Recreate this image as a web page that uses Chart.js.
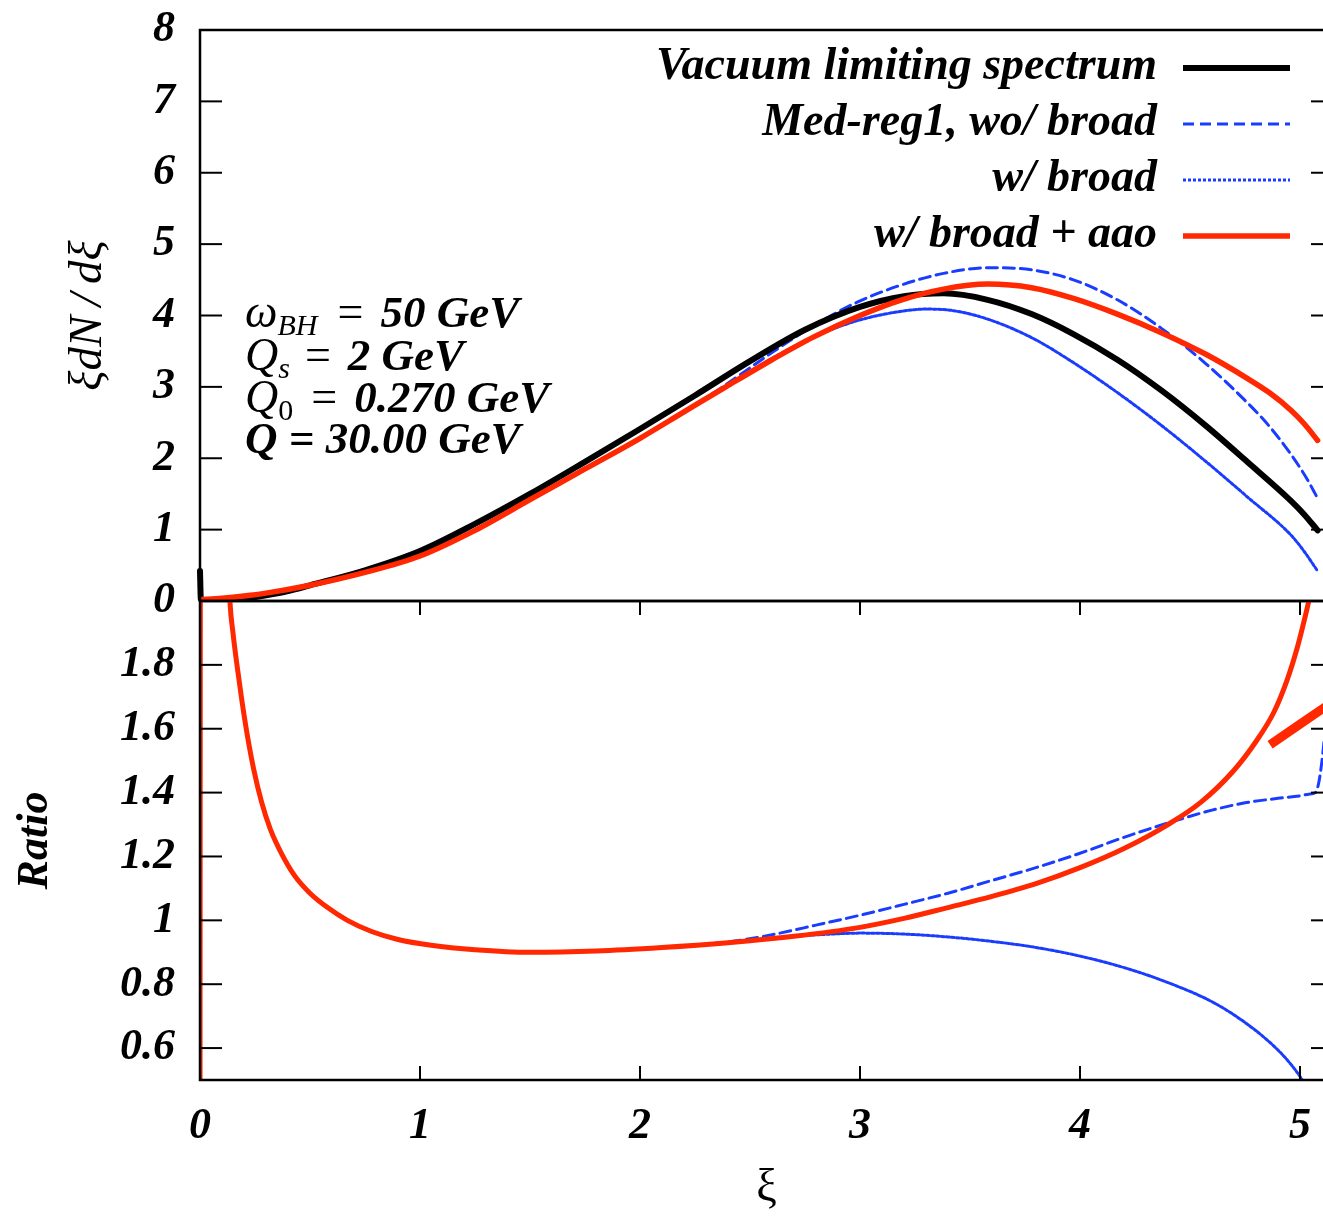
<!DOCTYPE html>
<html>
<head>
<meta charset="utf-8">
<script src="https://cdn.jsdelivr.net/npm/chart.js@4.4.1/dist/chart.umd.min.js"></script>
<style>
  html, body { margin: 0; padding: 0; background: #fff; }
  #page { position: relative; width: 1323px; height: 1217px; overflow: hidden; background: #fff; }
  #page canvas { position: absolute; left: 0; }
  #topChart { top: 0; }
  #ratioChart { top: 560px; }
</style>
</head>
<body>
<div id="page">
  <canvas id="topChart" width="1400" height="640"></canvas>
  <canvas id="ratioChart" width="1400" height="657"></canvas>
</div>
<script>
const SERIF = "'Liberation Serif', 'Times New Roman', serif";
const BLACK = '#000000';
const BLUE = '#1a3cff';
const RED = '#ff2800';

// upper panel: xi dN/dxi
const vacXi  = [0, 0.004, 0.1, 0.2, 0.3, 0.4, 0.5, 0.75, 1.0, 1.25, 1.5, 1.75, 2.0, 2.25, 2.5, 2.75, 3.0, 3.2, 3.38, 3.58, 3.78, 3.97, 4.17, 4.37, 4.57, 4.76, 4.96, 5.02, 5.08];
const vacVal = [0.42, 0.02, 0.0, 0.03, 0.08, 0.14, 0.22, 0.43, 0.70, 1.08, 1.50, 1.95, 2.41, 2.88, 3.36, 3.80, 4.12, 4.27, 4.31, 4.22, 4.02, 3.74, 3.38, 2.95, 2.46, 1.95, 1.40, 1.21, 0.99];

const wobXi  = [2.0, 2.2, 2.39, 2.59, 2.79, 2.99, 3.19, 3.38, 3.58, 3.78, 3.97, 4.17, 4.37, 4.57, 4.76, 4.86, 4.96, 5.03, 5.08];
const wobVal = [2.28, 2.65, 3.03, 3.46, 3.86, 4.19, 4.43, 4.59, 4.67, 4.64, 4.50, 4.22, 3.82, 3.33, 2.78, 2.45, 2.05, 1.72, 1.44];

const wbXi  = [2.0, 2.2, 2.39, 2.59, 2.79, 2.99, 3.19, 3.3, 3.42, 3.58, 3.78, 3.97, 4.17, 4.37, 4.57, 4.76, 4.96, 5.02, 5.08];
const wbVal = [2.28, 2.65, 3.0, 3.38, 3.70, 3.93, 4.06, 4.09, 4.07, 3.95, 3.69, 3.34, 2.92, 2.46, 1.96, 1.46, 0.92, 0.69, 0.42];

const aaoXi  = [0, 0.1, 0.2, 0.3, 0.5, 0.75, 1.0, 1.25, 1.5, 1.75, 2.0, 2.2, 2.39, 2.6, 2.79, 3.0, 3.19, 3.38, 3.58, 3.78, 3.97, 4.17, 4.37, 4.57, 4.76, 4.86, 4.96, 5.02, 5.08];
const aaoVal = [0.02, 0.04, 0.07, 0.11, 0.22, 0.40, 0.63, 0.99, 1.42, 1.85, 2.28, 2.65, 3.0, 3.38, 3.70, 4.0, 4.22, 4.37, 4.44, 4.39, 4.24, 4.02, 3.76, 3.46, 3.12, 2.92, 2.67, 2.48, 2.25];

// lower panel: ratio to vacuum
const rAaoXi  = [0, 0.002, 0.06, 0.12, 0.136, 0.15, 0.168, 0.19, 0.215, 0.245, 0.28, 0.32, 0.37, 0.43, 0.5, 0.58, 0.67, 0.78, 0.9, 1.05, 1.25, 1.5, 1.8, 2.1, 2.4, 2.7, 3.0, 3.2, 3.4, 3.6, 3.8, 4.0, 4.2, 4.4, 4.55, 4.7, 4.8, 4.88, 4.94, 4.99, 5.03, 5.06];
const rAaoVal = [0.3, 2.6, 3.0, 2.3, 2.0, 1.90, 1.80, 1.69, 1.58, 1.47, 1.37, 1.285, 1.21, 1.14, 1.085, 1.04, 1.0, 0.965, 0.94, 0.922, 0.908, 0.90, 0.904, 0.915, 0.93, 0.95, 0.978, 1.006, 1.04, 1.075, 1.115, 1.165, 1.225, 1.30, 1.37, 1.47, 1.56, 1.65, 1.75, 1.86, 1.97, 2.06];

const rWobXi  = [2.1, 2.4, 2.6, 2.8, 3.0, 3.2, 3.4, 3.6, 3.8, 4.0, 4.2, 4.4, 4.6, 4.75, 4.9, 5.0, 5.04, 5.07, 5.085, 5.1, 5.115];
const rWobVal = [0.915, 0.932, 0.955, 0.985, 1.016, 1.05, 1.085, 1.125, 1.165, 1.21, 1.26, 1.305, 1.345, 1.368, 1.382, 1.39, 1.395, 1.40, 1.43, 1.50, 1.60];

const rWbXi  = [2.1, 2.4, 2.7, 2.9, 3.0, 3.2, 3.4, 3.6, 3.8, 4.0, 4.2, 4.4, 4.6, 4.75, 4.88, 4.96, 5.01, 5.04];
const rWbVal = [0.915, 0.93, 0.95, 0.958, 0.96, 0.957, 0.948, 0.934, 0.915, 0.888, 0.852, 0.805, 0.745, 0.68, 0.607, 0.548, 0.50, 0.46];

const rExtraXi  = [4.864, 5.15];
const rExtraVal = [1.55, 1.685];

const xTicks = [0, 1, 2, 3, 4, 5];
const yTicksTop = [0, 1, 2, 3, 4, 5, 6, 7, 8];
const yTicksRatio = [0.6, 0.8, 1, 1.2, 1.4, 1.6, 1.8];

const legendLabels = ['Vacuum limiting spectrum', 'Med-reg1, wo/ broad', 'w/ broad', 'w/ broad + aao'];

const pts = (xs, ys) => xs.map((x, i) => ({ x: x, y: ys[i] }));
const tickFont = { family: SERIF, size: 44, style: 'italic', weight: 'bold' };
const fmt = v => String(Math.round(v * 10) / 10);

function line(ctx, x1, y1, x2, y2) {
  ctx.beginPath(); ctx.moveTo(x1, y1); ctx.lineTo(x2, y2); ctx.stroke();
}

// keep the panel edges where they are, labels may hang out
function fixY(s) { s.width = 200; s.paddingTop = 0; s.paddingBottom = 0; }

// box around the panel + inward ticks on all sides
const framePlugin = {
  id: 'frame',
  afterDraw(chart, args, opts) {
    const { ctx, chartArea: a, scales } = chart;
    ctx.save();
    ctx.strokeStyle = BLACK;
    ctx.lineWidth = 2.5;
    ctx.strokeRect(a.left, a.top, a.right - a.left, a.bottom - a.top);
    ctx.lineWidth = 2;
    scales.y.ticks.forEach(t => {
      const py = scales.y.getPixelForValue(t.value);
      line(ctx, a.left, py, a.left + 22, py);
      line(ctx, a.right - 22, py, a.right, py);
    });
    if (opts.xTicks) {
      scales.x.ticks.forEach(t => {
        const px = scales.x.getPixelForValue(t.value);
        line(ctx, px, a.bottom, px, a.bottom - 14);
        line(ctx, px, a.top, px, a.top + 14);
      });
    }
    ctx.restore();
  }
};

// legend: right aligned text with a line sample on its right
const legendPlugin = {
  id: 'keyBox',
  afterDraw(chart) {
    const ctx = chart.ctx;
    ctx.save();
    ctx.font = 'italic bold 46px ' + SERIF;
    ctx.textAlign = 'right';
    ctx.textBaseline = 'alphabetic';
    ctx.fillStyle = BLACK;
    chart.data.datasets.filter(d => d.keyRow !== undefined).forEach(d => {
      const y = 68 + d.keyRow * 56;
      ctx.fillText(d.label, 1157, y + 11);
      ctx.strokeStyle = d.borderColor;
      ctx.lineWidth = d.borderWidth;
      ctx.setLineDash(d.borderDash || []);
      ctx.lineCap = 'butt';
      line(ctx, 1183, y, 1290, y);
    });
    ctx.restore();
  }
};

// parameter block in the upper panel: [text, font, baseline shift, gap before]
const paramLines = [
  [['ω', 'italic 46px'], ['BH', 'italic 30px', 8], ['=', '46px', 0, 20], ['50 GeV', 'italic bold 45px', 0, 17]],
  [['Q', 'italic 46px'], ['s', 'italic 30px', 8], ['=', '46px', 0, 15], ['2 GeV', 'italic bold 45px', 0, 17]],
  [['Q', 'italic 46px'], ['0', '30px', 8], ['=', '46px', 0, 18], ['0.270 GeV', 'italic bold 45px', 0, 17]],
  [['Q = 30.00 GeV', 'italic bold 45px']]
];
const paramPlugin = {
  id: 'params',
  afterDraw(chart) {
    const ctx = chart.ctx;
    ctx.save();
    ctx.fillStyle = BLACK;
    ctx.textAlign = 'left';
    ctx.textBaseline = 'alphabetic';
    const base = [327, 370, 412, 453];
    paramLines.forEach((parts, i) => {
      let x = 245;
      parts.forEach(p => {
        x += p[3] || 0;
        ctx.font = p[1] + ' ' + SERIF;
        ctx.fillText(p[0], x, base[i] + (p[2] || 0));
        x += ctx.measureText(p[0]).width;
      });
    });
    ctx.restore();
  }
};

const topChart = new Chart(document.getElementById('topChart'), {
  type: 'line',
  data: {
    datasets: [
      { label: legendLabels[3], data: pts(aaoXi, aaoVal), borderColor: RED, borderWidth: 5.5, order: 0, keyRow: 3 },
      { label: legendLabels[0], data: pts(vacXi, vacVal), borderColor: BLACK, borderWidth: 6, order: 1, keyRow: 0,
        clip: { left: 4, top: 0, right: 0, bottom: 0 } },
      { label: legendLabels[2], data: pts(wbXi, wbVal), borderColor: BLUE, borderWidth: 3, borderDash: [3, 2], order: 2, keyRow: 2 },
      { label: legendLabels[1], data: pts(wobXi, wobVal), borderColor: BLUE, borderWidth: 3, borderDash: [11, 6], order: 3, keyRow: 1 }
    ]
  },
  options: {
    responsive: false,
    animation: false,
    events: [],
    layout: { padding: { top: 30, bottom: 39, left: 0, right: 67 } },
    elements: { point: { radius: 0 }, line: { cubicInterpolationMode: 'monotone', borderCapStyle: 'round' } },
    plugins: { legend: { display: false }, tooltip: { enabled: false }, frame: { xTicks: false } },
    scales: {
      x: { type: 'linear', min: 0, max: 5.15, display: false },
      y: {
        min: 0, max: 8,
        afterBuildTicks: s => { s.ticks = yTicksTop.map(v => ({ value: v })); },
        afterFit: fixY,
        grid: { display: false, drawTicks: false },
        border: { display: false },
        ticks: { font: tickFont, color: BLACK, padding: 25, callback: fmt },
        title: { display: true, text: 'ξdN\u2009/\u2009dξ', color: BLACK, padding: { top: 60 },
                 font: { family: SERIF, size: 47, style: 'italic' } }
      }
    }
  },
  plugins: [framePlugin, legendPlugin, paramPlugin]
});

const ratioChart = new Chart(document.getElementById('ratioChart'), {
  type: 'line',
  data: {
    datasets: [
      { label: 'extra', data: pts(rExtraXi, rExtraVal), borderColor: RED, borderWidth: 9, order: 0, borderCapStyle: 'butt' },
      { label: legendLabels[3], data: pts(rAaoXi, rAaoVal), borderColor: RED, borderWidth: 5, order: 1 },
      { label: legendLabels[2], data: pts(rWbXi, rWbVal), borderColor: BLUE, borderWidth: 3, borderDash: [3, 2], order: 2 },
      { label: legendLabels[1], data: pts(rWobXi, rWobVal), borderColor: BLUE, borderWidth: 3, borderDash: [11, 6], order: 3 }
    ]
  },
  options: {
    responsive: false,
    animation: false,
    events: [],
    layout: { padding: { top: 41, bottom: 0, left: 0, right: 67 } },
    elements: { point: { radius: 0 }, line: { cubicInterpolationMode: 'monotone', borderCapStyle: 'round' } },
    plugins: { legend: { display: false }, tooltip: { enabled: false }, frame: { xTicks: true } },
    scales: {
      x: {
        type: 'linear', min: 0, max: 5.15,
        afterBuildTicks: s => { s.ticks = xTicks.map(v => ({ value: v })); },
        afterFit: s => { s.height = 137; s.paddingLeft = 0; s.paddingRight = 0; },
        grid: { display: false, drawTicks: false },
        border: { display: false },
        ticks: { font: tickFont, color: BLACK, padding: 20, maxRotation: 0, callback: fmt },
        title: { display: true, text: 'ξ', color: BLACK, padding: { bottom: 0 },
                 font: { family: SERIF, size: 46 } }
      },
      y: {
        min: 0.5, max: 2.0,
        afterBuildTicks: s => { s.ticks = yTicksRatio.map(v => ({ value: v })); },
        afterFit: fixY,
        grid: { display: false, drawTicks: false },
        border: { display: false },
        ticks: { font: tickFont, color: BLACK, padding: 25, callback: fmt },
        title: { display: true, text: 'Ratio', color: BLACK, padding: { top: 9 },
                 font: { family: SERIF, size: 44, style: 'italic', weight: 'bold' } }
      }
    }
  },
  plugins: [framePlugin]
});
</script>
</body>
</html>
